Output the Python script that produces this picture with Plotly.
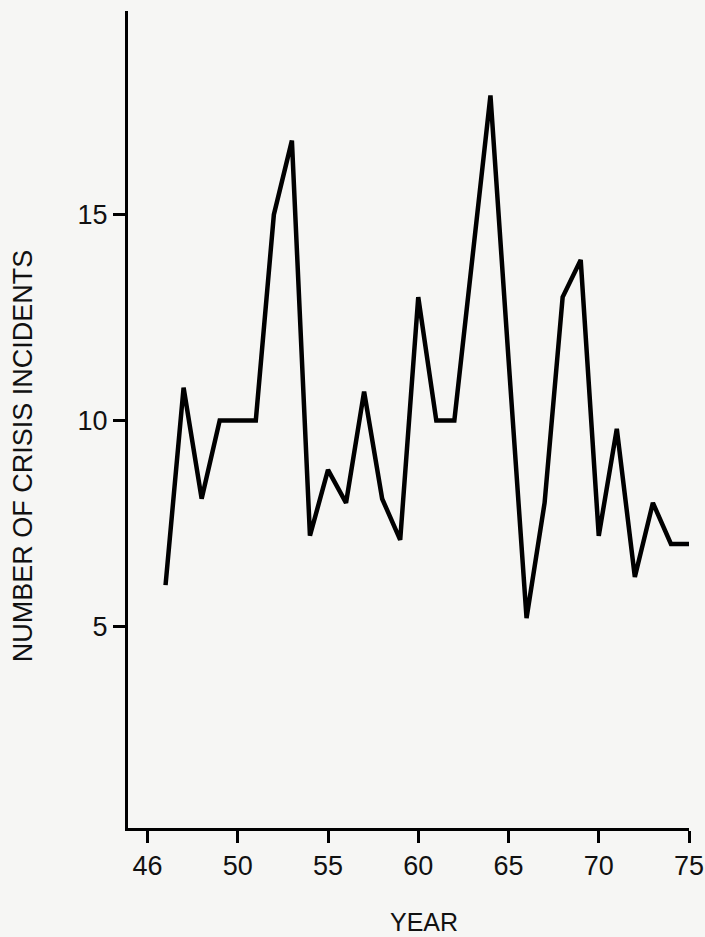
import plotly.graph_objects as go

# Data
years = list(range(46, 76))
incidents = [6.0, 10.8, 8.1, 10.0, 10.0, 10.0, 15.0, 16.8, 7.2, 8.8,
             8.0, 10.7, 8.1, 7.1, 13.0, 10.0, 10.0, 14.0, 17.9, 11.5,
             5.2, 8.0, 13.0, 13.9, 7.2, 9.8, 6.2, 8.0, 7.0, 7.0]

x_tick_vals = [45, 50, 55, 60, 65, 70, 75]
x_tick_text = ["46", "50", "55", "60", "65", "70", "75"]
y_tick_vals = [5, 10, 15]
y_tick_text = ["5", "10", "15"]

FONT = "Liberation Sans, Arial, Helvetica, sans-serif"
BG = "#f6f6f4"
INK = "#111111"

fig = go.Figure(
    go.Scatter(
        x=years,
        y=incidents,
        mode="lines",
        line=dict(color="black", width=4.5),
        showlegend=False,
        hoverinfo="x+y",
    )
)

axis_common = dict(
    ticks="outside",
    ticklen=12,
    tickwidth=3,
    tickcolor="black",
    showline=True,
    linewidth=3,
    linecolor="black",
    showgrid=False,
    zeroline=False,
    automargin=False,
    ticklabeloverflow="allow",
    tickfont=dict(family=FONT, size=27, color=INK),
)

fig.update_layout(
    width=705,
    height=937,
    autosize=False,
    margin=dict(l=128, r=16, t=11, b=109),
    paper_bgcolor=BG,
    plot_bgcolor=BG,
    font=dict(family=FONT, size=27, color=INK),
    xaxis=dict(range=[43.92, 75], tickvals=x_tick_vals, ticktext=x_tick_text, **axis_common),
    yaxis=dict(range=[0.1, 19.95], tickvals=y_tick_vals, ticktext=y_tick_text, **axis_common),
    annotations=[
        dict(
            text="NUMBER OF CRISIS INCIDENTS",
            xref="paper", yref="paper",
            x=-0.187, y=0.455,
            xanchor="center", yanchor="middle",
            textangle=-90,
            showarrow=False,
            font=dict(family=FONT, size=27, color=INK),
        ),
        dict(
            text="YEAR",
            xref="paper", yref="paper",
            x=0.527, y=-0.115,
            xanchor="center", yanchor="middle",
            showarrow=False,
            font=dict(family=FONT, size=25, color=INK),
        ),
    ],
)

fig.write_html(
    "out.html",
    config={"displayModeBar": False},
    post_script="document.body.style.margin='0';document.body.style.overflow='hidden';",
)
